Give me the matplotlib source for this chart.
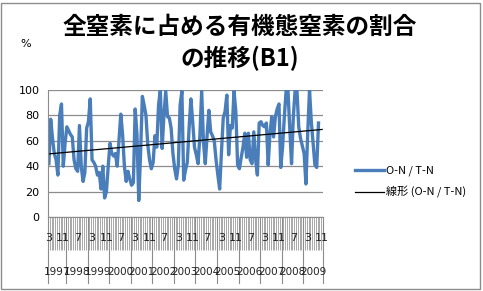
import matplotlib
matplotlib.use("Agg")
import matplotlib.pyplot as plt
from matplotlib.lines import Line2D
from matplotlib.patches import Rectangle
import numpy as np

plt.rcParams["font.family"] = ["Noto Sans CJK JP", "DejaVu Sans"]

# monthly O-N / T-N ratio (%), Mar 1997 - Nov 2009
start_year, start_month = 1997, 3
n_months = 153
ratio = [
    42, 77, 62, 50, 45, 33, 80, 89, 40, 58,
    71, 68, 65, 63, 45, 38, 36, 72, 40, 28,
    35, 70, 75, 93, 45, 43, 40, 33, 35, 22,
    40, 15, 20, 40, 58, 50, 48, 50, 40, 60,
    81, 65, 40, 28, 36, 30, 25, 27, 85, 65,
    13, 50, 95, 88, 80, 57, 45, 38, 43, 64,
    55, 88, 100, 54, 80, 99, 79, 78, 70, 50,
    38, 30, 41, 88, 99, 29, 37, 43, 70, 93,
    75, 55, 49, 42, 64, 99, 59, 42, 64, 84,
    67, 64, 60, 45, 33, 22, 51, 78, 83, 96,
    49, 72, 70, 99, 83, 41, 38, 47, 55, 66,
    47, 66, 45, 42, 67, 45, 33, 74, 75, 72,
    71, 74, 41, 66, 79, 63, 79, 85, 89, 39,
    55, 79, 100, 100, 70, 42, 79, 100, 100, 71,
    62, 56, 50, 26, 66, 100, 75, 58, 41, 39,
    74,
]
yticks = [0, 20, 40, 60, 80, 100]
series_name = "O-N / T-N"
trend_name = "線形 (O-N / T-N)"
title = "全窒素に占める有機態窒素の割合\nの推移(B1)"

vals = np.full(n_months, np.nan)
vals[:len(ratio)] = ratio
x = np.arange(n_months)
months = [(start_month - 1 + i) % 12 + 1 for i in range(n_months)]
years = [start_year + (start_month - 1 + i) // 12 for i in range(n_months)]

ok = ~np.isnan(vals)
k, b = np.polyfit(x[ok], vals[ok], 1)

W, H = 483, 291
fig = plt.figure(figsize=(W / 100, H / 100), dpi=100)
fig.patches.append(Rectangle((1 / W, 2 / H), 479 / W, 286 / H, transform=fig.transFigure,
                             fill=False, edgecolor="#8c8c8c", linewidth=1.0))
ax = fig.add_axes([48 / W, 1 - 217 / H, 275 / W, 127 / H])

blue = "#4a7ebb"
ax.plot(x, vals, color=blue, linewidth=2.4, solid_joinstyle="round")
ax.plot(x, k * x + b, color="black", linewidth=0.9)

ax.set_ylim(0, 100)
ax.set_xlim(-0.5, n_months - 0.5)
ax.set_yticks(yticks)
ax.yaxis.grid(True, color="#8c8c8c", linewidth=0.9)
ax.set_axisbelow(True)
for s in ["top", "right"]:
    ax.spines[s].set_visible(False)
ax.spines["left"].set_color("#8c8c8c")
ax.spines["bottom"].set_color("#8c8c8c")
ax.tick_params(axis="y", length=0, labelsize=8, pad=6)
for t in ax.get_yticklabels():
    t.set_family("DejaVu Sans")

# category boundaries -> dense tick comb
ax.set_xticks(np.arange(n_months + 1) - 0.5)
ax.tick_params(axis="x", length=24, width=0.6, color="#9a9a9a", labelbottom=False)

tr = ax.get_xaxis_transform()
for i in range(0, n_months, 8):
    ax.text(i, -0.165, str(months[i]), transform=tr, ha="center", va="center",
            fontsize=8, family="DejaVu Sans", color="#222222")

# year groups
bounds = [0] + [i for i in range(1, n_months) if years[i] != years[i - 1]] + [n_months]
for j in range(len(bounds) - 1):
    a, e = bounds[j], bounds[j + 1]
    ax.text((a + e - 1) / 2, -0.435, str(years[a]), transform=tr, ha="center", va="center",
            fontsize=7.5, family="DejaVu Sans", color="#222222")
for bd in bounds:
    ax.plot([bd - 0.5, bd - 0.5], [0, -0.52], transform=tr, color="#8c8c8c",
            linewidth=0.8, clip_on=False)

fig.text(240 / W, 1 - 43 / H, title, ha="center", va="center", fontsize=17,
         fontweight="bold", linespacing=1.3)
fig.text(26 / W, 1 - 44 / H, "%", ha="center", va="center", fontsize=8,
         family="DejaVu Sans")

handles = [Line2D([], [], color=blue, linewidth=2.4),
           Line2D([], [], color="black", linewidth=0.9)]
fig.legend(handles, [series_name, trend_name], loc="center left",
           bbox_to_anchor=(345 / W, 1 - 182 / H), frameon=False, fontsize=8,
           handlelength=2.6, handletextpad=0.15, labelspacing=0.9)

fig.savefig("out.png", dpi=100)
